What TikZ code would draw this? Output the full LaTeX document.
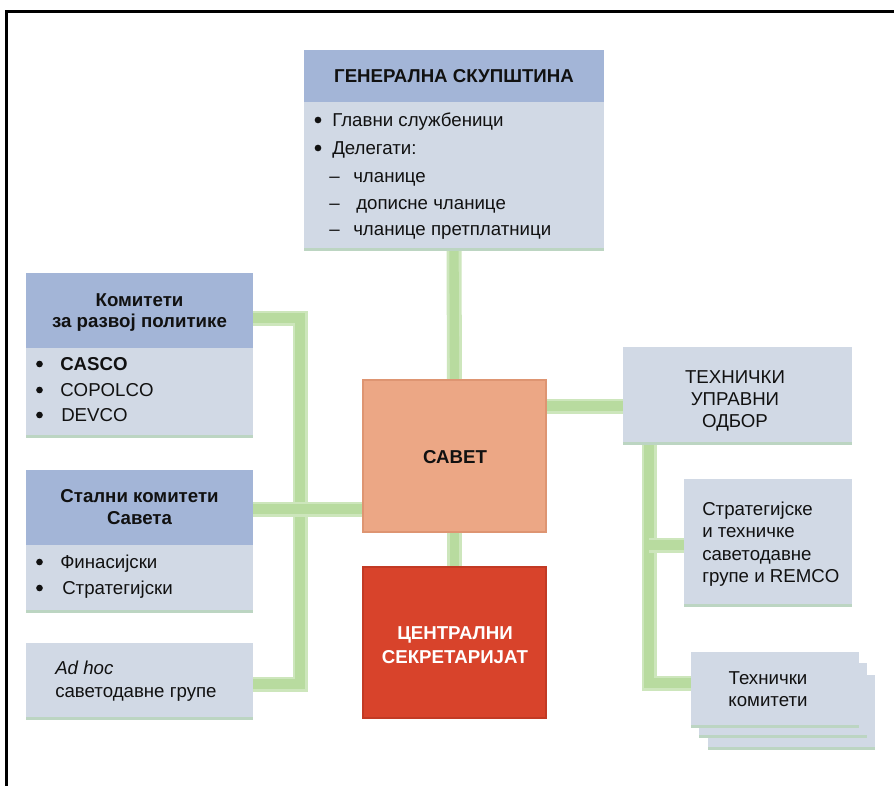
\documentclass[tikz,border=0pt]{standalone}
\usepackage{fontspec}
\setmainfont{Liberation Sans}
\usetikzlibrary{fit,calc}
\pgfdeclarelayer{bg}
\pgfsetlayers{bg,main}
\definecolor{hdr}{HTML}{A3B5D7}
\definecolor{bdy}{HTML}{D1D9E5}
\definecolor{grnA}{HTML}{CDE6BC}
\definecolor{grnB}{HTML}{B8DB9F}
\definecolor{shd}{HTML}{BCD5C2}
\definecolor{sav}{HTML}{ECA785}
\definecolor{savD}{HTML}{DE9572}
\definecolor{sec}{HTML}{D8432B}
\definecolor{secD}{HTML}{C23A24}
\definecolor{ink}{HTML}{111111}
\tikzset{
  rect/.style={inner sep=0pt, outer sep=0pt},
  bodybox/.style={rect, fill=bdy, path picture={\fill[shd] (path picture bounding box.south west) rectangle ([yshift=2.5pt]path picture bounding box.south east);}},
  hdrbox/.style={rect, fill=hdr},
  savbox/.style={rect, fill=sav, draw=savD, line width=0.8pt},
  secbox/.style={rect, fill=sec, draw=secD, line width=0.8pt},
  txt/.style={inner sep=0pt, text=ink, font=\fontsize{14}{16}\selectfont},
  btxt/.style={inner sep=0pt, text=ink, font=\fontsize{14}{16}\selectfont\bfseries},
  dot/.style={circle, fill=ink, inner sep=0pt, minimum size=5pt},
  connA/.style={line width=11.25pt, draw=grnA, line join=miter},
  connB/.style={line width=7pt, draw=grnB, line join=miter},
}
\newcommand\greenbar[1]{\draw[connA] #1; \draw[connB] #1;}
\begin{document}
\begin{tikzpicture}[x=0.75pt,y=-0.75pt]
\useasboundingbox (0,0) rectangle (894,786);
\begin{pgfonlayer}{bg}
\fill[white] (0,0) rectangle (894,786);
\end{pgfonlayer}
% frame
\draw[line width=2.25pt, line join=miter] (6,786) -- (6,11) -- (894,11);

% General assembly
\node[bodybox, fit={(304,50)(604,251)}] (gs) {};
\node[hdrbox, fit={(304,50)(604,102)}] (gsh) {};
\node[btxt] (gst) at (gsh.center) {ГЕНЕРАЛНА СКУПШТИНА};
\node[dot] (gsb1) at (318,120) {};
\node[txt, anchor=base west] (gsl1) at (332,126) {Главни службеници};
\node[dot] (gsb2) at (318,148) {};
\node[txt, anchor=base west] (gsl2) at (332,154) {Делегати:};
\node[txt, anchor=base west] (gsd3) at (329,182) {–};
\node[txt, anchor=base west] (gsl3) at (353,182) {чланице};
\node[txt, anchor=base west] (gsd4) at (329,209) {–};
\node[txt, anchor=base west] (gsl4) at (356,209) {дописне чланице};
\node[txt, anchor=base west] (gsd5) at (329,235) {–};
\node[txt, anchor=base west] (gsl5) at (353,235) {чланице претплатници};

% Policy development committees
\node[bodybox, fit={(26,273)(253,438)}] (kom) {};
\node[hdrbox, fit={(26,273)(253,348)}] (komh) {};
\node[btxt, anchor=base] (komt1) at (139.5,306) {Комитети};
\node[btxt, anchor=base] (komt2) at (139.5,327) {за развој политике};
\node[dot] (komb1) at (39.5,364) {};
\node[btxt, anchor=base west] (koml1) at (60,370) {CASCO};
\node[dot] (komb2) at (39.5,390) {};
\node[txt, anchor=base west] (koml2) at (60,396) {COPOLCO};
\node[dot] (komb3) at (39.5,415) {};
\node[txt, anchor=base west] (koml3) at (61,421) {DEVCO};

% Standing committees
\node[bodybox, fit={(26,470)(253,613)}] (stal) {};
\node[hdrbox, fit={(26,470)(253,545)}] (stalh) {};
\node[btxt, anchor=base] (stalt1) at (139.5,502) {Стални комитети};
\node[btxt, anchor=base] (stalt2) at (139.5,524) {Савета};
\node[dot] (stalb1) at (39.5,562) {};
\node[txt, anchor=base west] (stall1) at (60,568) {Финасијски};
\node[dot] (stalb2) at (39.5,588) {};
\node[txt, anchor=base west] (stall2) at (62,594) {Стратегијски};

% Ad hoc
\node[bodybox, fit={(26,643)(253,720)}] (adhoc) {};
\node[txt, anchor=base west, font=\fontsize{14}{16}\selectfont\itshape] (adt1) at (55,674) {Ad hoc};
\node[txt, anchor=base west] (adt2) at (55,697) {саветодавне групе};

% Council
\node[savbox, fit={(363,380)(546,532)}] (savet) {};
\node[btxt, anchor=base] (savt) at (455,463) {САВЕТ};

% Central secretariat
\node[secbox, fit={(363,567)(546,718)}] (sec) {};
\node[btxt, anchor=base, text=white] (sect1) at (455,639) {ЦЕНТРАЛНИ};
\node[btxt, anchor=base, text=white] (sect2) at (455,663) {СЕКРЕТАРИЈАТ};

% Technical management board
\node[bodybox, fit={(623,347)(852,445)}] (tuo) {};
\node[txt, anchor=base] (tuot1) at (735,383) {ТЕХНИЧКИ};
\node[txt, anchor=base] (tuot2) at (735,405) {УПРАВНИ};
\node[txt, anchor=base] (tuot3) at (735,427) {ОДБОР};

% Strategic and technical advisory groups
\node[bodybox, fit={(684,479)(852,607)}] (strat) {};
\node[txt, anchor=base west] (strt1) at (702,515) {Стратегијске};
\node[txt, anchor=base west] (strt2) at (702,537) {и техничке};
\node[txt, anchor=base west] (strt3) at (702,560) {саветодавне};
\node[txt, anchor=base west] (strt4) at (702,582) {групе и REMCO};

% Technical committees (stack)
\node[bodybox, fit={(708,675)(875,750)}] (tk3) {};
\node[bodybox, fit={(699,663)(867,738)}] (tk2) {};
\node[bodybox, fit={(691,652)(859,728)}] (tk) {};
\node[txt, anchor=base] (tkt1) at (768,684) {Технички};
\node[txt, anchor=base] (tkt2) at (768,706) {комитети};

% connectors
\coordinate (k1) at ($(kom.north east)+(0,45)$);
\coordinate (a1) at ($(adhoc.north east)+(0,41)$);
\coordinate (s1) at ($(stal.north east)+(0,39)$);
\coordinate (vx) at ($(k1)+(47,0)$);
\coordinate (t1) at ($(savet.north east)+(0,26)$);
\coordinate (r1) at ($(tuo.south west)+(26,0)$);
\coordinate (g1) at ($(strat.north west)+(0,66)$);
\coordinate (h1) at ($(tk.north west)+(0,31)$);
\begin{pgfonlayer}{bg}
\greenbar{(gs.south) -- (savet.north)}
\greenbar{(savet.south) -- (sec.north)}
\greenbar{(k1) -- (vx) -- (vx |- a1) -- (a1)}
\greenbar{(s1) -- (s1 -| savet.west)}
\greenbar{(t1) -- (t1 -| tuo.west)}
\greenbar{(r1) -- (r1 |- h1) -- (h1)}
\greenbar{(r1 |- g1) -- (g1)}
\end{pgfonlayer}
\end{tikzpicture}
\end{document}
